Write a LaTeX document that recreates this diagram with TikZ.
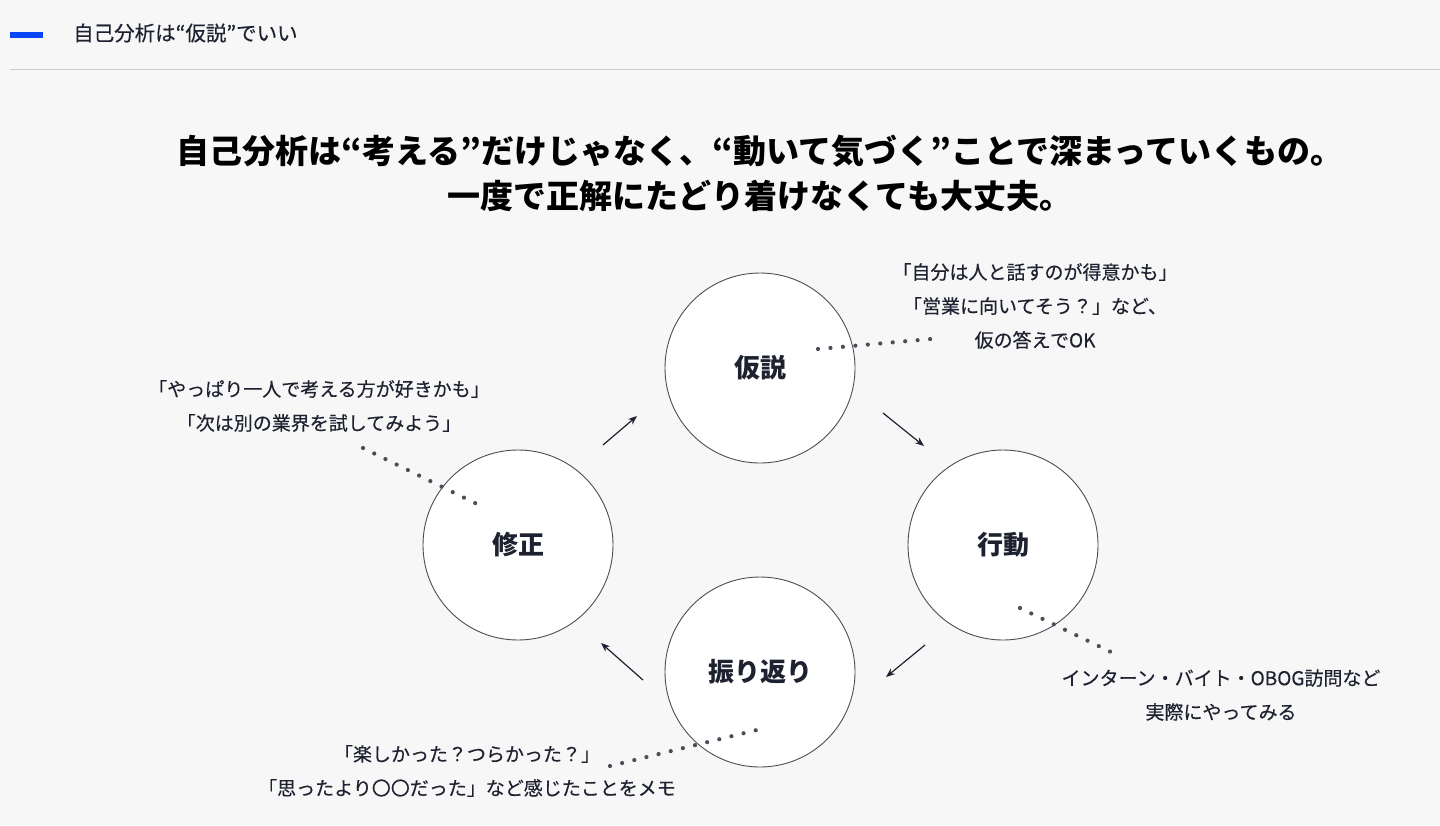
\documentclass[tikz,border=0pt]{standalone}
\usepackage{fontspec}
\setmainfont{Noto Sans CJK JP}
\newfontfamily\memofont{Noto Sans CJK JP}[FakeBold=0.35]
\usetikzlibrary{arrows.meta}
\definecolor{bg}{HTML}{F7F7F7}
\definecolor{ink}{HTML}{1E2230}
\definecolor{rulegray}{HTML}{CCCCCC}
\definecolor{accent}{HTML}{0A46F5}
\begin{document}
\begin{tikzpicture}[
  x=1pt, y=-1pt,
  stage/.style={circle, draw=ink!80, line width=0.9pt, fill=white, minimum size=190pt, inner sep=0pt, text=ink, font=\fontsize{26}{30}\selectfont\bfseries},
  memo/.style={align=center, text=ink, inner sep=0pt, font=\fontsize{19}{34}\memofont},
  headline/.style={align=center, text=black, inner sep=0pt, font=\fontsize{33}{45}\selectfont\bfseries},
  cyc/.style={-{Stealth[length=9pt, width=7pt]}, line width=1.2pt, draw=ink},
  dots/.style={line width=4.2pt, line cap=round, dash pattern=on 0pt off 12.5pt, draw=ink!80}
]
\useasboundingbox (0,0) rectangle (1440,825);
\fill[bg] (0,0) rectangle (1440,825);

\fill[accent] (10,32) rectangle (43,38);
\node[anchor=west, inner sep=0pt, text=ink, font=\fontsize{20.5}{24}\memofont] (tag) at (73,33) {自己分析は“仮説”でいい};
\draw[rulegray, line width=1pt] (10,69) -- (1440,69);

\node[headline] (lead) at (760,173) {自己分析は“考える”だけじゃなく、“動いて気づく”ことで深まっていくもの。\\一度で正解にたどり着けなくても大丈夫。};

\node[stage] (hypo) at (760,368) {仮説};
\node[stage] (act) at (1003,545) {行動};
\node[stage] (look) at (760,672) {振り返り};
\node[stage] (fix) at (518,545) {修正};

\coordinate (c1a) at (603,445); \coordinate (c1b) at (637,416);
\coordinate (c2a) at (883,413); \coordinate (c2b) at (924,446);
\coordinate (c3a) at (925,645); \coordinate (c3b) at (886,677);
\coordinate (c4a) at (643,680); \coordinate (c4b) at (601,643);
\draw[cyc] (c1a) -- (c1b);
\draw[cyc] (c2a) -- (c2b);
\draw[cyc] (c3a) -- (c3b);
\draw[cyc] (c4a) -- (c4b);

\node[memo] (m1) at (1035,306) {「自分は人と話すのが得意かも」\\「営業に向いてそう？」など、\\仮の答えでOK};
\node[memo] (m2) at (1221,695) {インターン・バイト・OBOG訪問など\\実際にやってみる};
\node[memo] (m3) at (467,771) {「楽しかった？つらかった？」\\「思ったより〇〇だった」など感じたことをメモ};
\node[memo] (m4) at (319,406) {「やっぱり一人で考える方が好きかも」\\「次は別の業界を試してみよう」};

\coordinate (d1a) at (818,349); \coordinate (d1b) at (942,338);
\coordinate (d2a) at (1020,608); \coordinate (d2b) at (1111,652);
\coordinate (d3a) at (610,766); \coordinate (d3b) at (765,728);
\coordinate (d4a) at (363,448); \coordinate (d4b) at (479,505);
\draw[dots] (d1a) -- (d1b);
\draw[dots] (d2a) -- (d2b);
\draw[dots] (d3a) -- (d3b);
\draw[dots] (d4a) -- (d4b);
\end{tikzpicture}
\end{document}
